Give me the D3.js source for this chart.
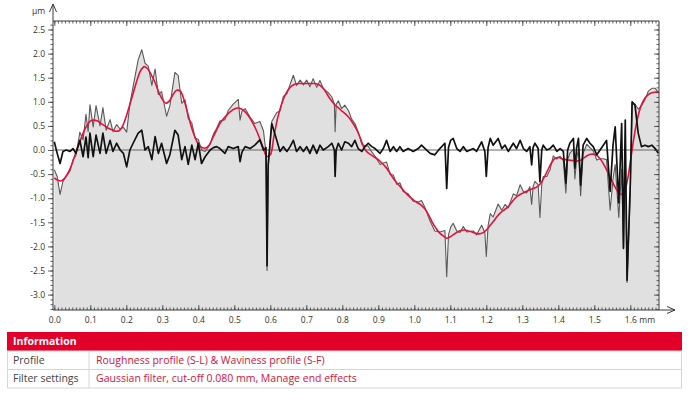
<!DOCTYPE html>
<html><head><meta charset="utf-8">
<script src="https://cdn.jsdelivr.net/npm/d3@7"></script>
<style>
body{margin:0;background:#fff;}
svg{display:block;font-family:"Open Sans",sans-serif;}
</style></head><body>
<svg id="c" width="689" height="396"></svg>
<script>
// ---------- DATA ----------
const posMM = [
0.000,0.008,0.016,0.024,0.033,0.044,0.052,0.060,0.071,0.080,
0.088,0.094,0.099,0.108,0.116,0.127,0.135,0.144,0.155,0.163,
0.173,0.183,0.192,0.201,0.210,0.219,0.233,0.243,0.252,0.261,
0.271,0.280,0.289,0.298,0.312,0.321,0.335,0.344,0.354,0.363,
0.372,0.382,0.391,0.400,0.409,0.419,0.433,0.442,0.451,0.460,
0.474,0.483,0.497,0.511,0.516,0.521,0.530,0.544,0.557,0.571,
0.581,0.588,0.591,0.594,0.604,0.618,0.627,0.636,0.646,0.655,
0.664,0.673,0.683,0.692,0.701,0.710,0.719,0.729,0.738,0.747,
0.761,0.771,0.778,0.780,0.783,0.789,0.798,0.807,0.817,0.826,
0.835,0.844,0.854,0.863,0.872,0.882,0.891,0.905,0.914,0.923,
0.933,0.942,0.951,0.960,0.969,0.983,0.997,1.011,1.020,1.030,
1.044,1.057,1.071,1.085,1.090,1.095,1.101,1.108,1.118,1.127,
1.136,1.146,1.155,1.164,1.173,1.187,1.196,1.200,1.205,1.211,
1.219,1.233,1.243,1.252,1.261,1.275,1.284,1.294,1.303,1.312,
1.321,1.326,1.330,1.335,1.344,1.349,1.354,1.358,1.368,1.377,
1.386,1.396,1.405,1.414,1.421,1.426,1.432,1.442,1.446,1.451,
1.456,1.462,1.469,1.479,1.488,1.497,1.507,1.516,1.525,1.534,
1.544,1.552,1.558,1.568,1.576,1.581,1.586,1.591,1.600,1.605,
1.613,1.622,1.631,1.641,1.650,1.660,1.669,1.678];

const roughness = [
0.17,-0.07,-0.28,-0.03,0.00,-0.03,0.03,-0.07,0.20,-0.14,
0.27,-0.16,0.35,-0.14,0.31,-0.07,0.35,-0.07,0.20,-0.03,
0.14,0.00,-0.07,-0.35,0.00,0.14,0.35,0.41,0.00,0.07,
-0.20,0.28,-0.07,0.14,-0.28,-0.10,0.41,0.31,-0.20,0.07,
-0.30,0.10,-0.20,0.14,-0.28,-0.14,0.00,0.05,0.07,0.03,
-0.07,0.07,0.03,0.07,-0.24,-0.05,0.07,0.03,0.10,0.21,
0.00,0.05,-2.40,-0.30,0.55,0.20,-0.03,0.07,-0.03,0.07,
0.20,-0.03,0.07,-0.03,0.07,-0.07,0.10,-0.07,0.10,0.00,
0.07,0.14,0.00,-0.55,0.00,0.14,0.00,0.17,0.14,0.07,
0.20,0.03,-0.03,0.07,0.14,0.07,0.03,-0.07,0.03,0.20,
-0.03,0.07,-0.03,0.07,-0.03,0.03,-0.03,0.03,0.10,0.03,
-0.07,-0.10,0.03,0.14,-0.80,0.05,0.20,0.24,0.03,-0.03,
0.07,-0.03,0.00,0.03,-0.03,0.17,-0.03,-0.55,0.05,0.24,
0.10,0.24,0.03,0.10,-0.03,0.14,0.03,0.20,0.03,-0.03,
0.07,-0.31,0.05,0.14,0.03,-0.66,0.00,0.10,0.00,0.03,
0.10,-0.03,0.03,-0.03,-0.69,0.00,0.14,0.24,-0.38,0.05,
0.24,-0.73,0.10,0.24,0.14,0.07,-0.10,0.00,0.10,0.20,
-0.86,0.10,0.48,-1.10,0.55,-2.04,0.62,-2.70,-0.69,1.00,
0.93,0.35,0.07,0.10,0.07,0.10,0.03,-0.07];

const primary = [
-0.41,-0.55,-0.92,-0.65,-0.55,-0.43,-0.20,-0.12,0.37,0.21,
0.74,0.38,0.94,0.48,0.92,0.50,0.88,0.41,0.63,0.38,
0.53,0.43,0.47,0.37,0.95,1.32,1.87,2.08,1.80,1.74,
1.34,1.68,1.15,1.21,0.70,0.92,1.61,1.55,0.97,1.04,
0.65,0.56,0.25,0.22,0.00,-0.03,0.12,0.33,0.45,0.60,
0.63,0.82,0.95,1.05,0.62,0.80,0.86,0.68,0.55,0.59,
0.40,-0.05,-2.50,-0.42,0.59,0.78,0.81,1.11,1.17,1.36,
1.55,1.34,1.45,1.35,1.45,1.31,1.48,1.30,1.44,1.28,
1.19,1.10,0.95,0.38,0.95,1.02,0.86,0.93,0.82,0.64,
0.55,0.38,0.12,0.09,0.08,-0.04,-0.13,-0.30,-0.27,-0.25,
-0.51,-0.52,-0.71,-0.68,-0.86,-0.91,-1.06,-1.08,-1.05,-1.20,
-1.48,-1.68,-1.70,-1.67,-2.63,-1.76,-1.60,-1.52,-1.68,-1.71,
-1.59,-1.70,-1.69,-1.68,-1.76,-1.56,-1.71,-2.21,-1.57,-1.32,
-1.39,-1.12,-1.25,-1.13,-1.20,-0.91,-0.95,-0.72,-0.86,-0.89,
-0.76,-1.13,-0.76,-0.65,-0.72,-1.40,-0.72,-0.55,-0.55,-0.41,
-0.12,-0.19,-0.13,-0.22,-0.89,-0.20,-0.07,0.02,-0.60,-0.18,
0.01,-0.95,-0.07,0.12,0.05,-0.02,-0.21,-0.18,-0.18,-0.20,
-1.25,-0.60,-0.30,-1.40,-0.40,-2.05,-0.25,-2.75,-0.90,0.97,
0.95,0.85,0.92,1.05,1.22,1.28,1.28,1.20];

// waviness sampled every 0.01 mm from 0.00 to 1.68
const wavinessStep = 0.01;
const waviness = [
-0.58,-0.63,-0.64,-0.57,-0.45,-0.27,-0.05,0.15,0.35,0.50,
0.60,0.62,0.60,0.55,0.50,0.45,0.42,0.39,0.40,0.50,
0.70,0.95,1.20,1.45,1.65,1.73,1.68,1.55,1.40,1.20,
1.05,0.97,1.02,1.15,1.24,1.22,1.05,0.78,0.50,0.28,
0.12,0.05,0.04,0.10,0.25,0.40,0.55,0.65,0.73,0.80,
0.85,0.87,0.85,0.79,0.70,0.58,0.43,0.25,0.05,-0.13,
-0.10,0.28,0.65,0.92,1.12,1.25,1.33,1.37,1.38,1.38,
1.38,1.38,1.38,1.37,1.33,1.25,1.13,1.02,0.93,0.87,
0.80,0.74,0.66,0.55,0.42,0.25,0.05,-0.05,-0.10,-0.15,
-0.20,-0.27,-0.35,-0.45,-0.57,-0.67,-0.75,-0.84,-0.92,-0.99,
-1.05,-1.10,-1.15,-1.23,-1.35,-1.50,-1.62,-1.72,-1.78,-1.83,
-1.80,-1.75,-1.70,-1.67,-1.66,-1.68,-1.70,-1.73,-1.74,-1.72,
-1.66,-1.57,-1.48,-1.38,-1.30,-1.24,-1.18,-1.09,-1.00,-0.94,
-0.90,-0.86,-0.83,-0.80,-0.77,-0.70,-0.58,-0.43,-0.28,-0.18,
-0.15,-0.18,-0.20,-0.21,-0.22,-0.23,-0.22,-0.17,-0.12,-0.09,
-0.09,-0.13,-0.22,-0.35,-0.50,-0.66,-0.80,-0.90,-0.92,-0.70,
-0.25,0.25,0.65,0.92,1.07,1.15,1.19,1.20,1.20];

const xTicks = [0,0.1,0.2,0.3,0.4,0.5,0.6,0.7,0.8,0.9,1.0,1.1,1.2,1.3,1.4,1.5,1.6];
const xTickLabels = ["0.0","0.1","0.2","0.3","0.4","0.5","0.6","0.7","0.8","0.9","1.0","1.1","1.2","1.3","1.4","1.5","1.6"];
const yTicks = [2.5,2.0,1.5,1.0,0.5,0.0,-0.5,-1.0,-1.5,-2.0,-2.5,-3.0];
const yTickLabels = ["2.5","2.0","1.5","1.0","0.5","0.0","-0.5","-1.0","-1.5","-2.0","-2.5","-3.0"];
const xUnit = "mm", yUnit = "µm";
const tableTitle = "Information";
const tableKeys = ["Profile","Filter settings"];
const tableValues = ["Roughness profile (S-L) & Waviness profile (S-F)","Gaussian filter, cut-off 0.080 mm, Manage end effects"];

// ---------- LAYOUT ----------
const svg = d3.select("#c");
const P = {left:53, right:659, top:21, bottom:310};
const x = d3.scaleLinear().domain([0,1.6]).range([54.3,630.3]);
const y = d3.scaleLinear().domain([-3,2.5]).range([294.6,29.5]);
const xMax = x.invert(P.right), yMin = y.invert(P.bottom), yMax = y.invert(P.top);
const axisCol = "#3a3a3a", textCol = "#333", red = "#e2123c";
const tickFont = 8.5;

svg.append("defs").append("clipPath").attr("id","clip")
  .append("rect").attr("x",P.left).attr("y",P.top).attr("width",P.right-P.left).attr("height",P.bottom-P.top);

const prof = posMM.map((m,i)=>({m, p:primary[i], r:roughness[i]}));
const wav = waviness.map((v,i)=>({m:i*wavinessStep, v}));

const g = svg.append("g").attr("clip-path","url(#clip)");
g.append("path").datum(prof)
  .attr("d", d3.area().x(d=>x(d.m)).y0(P.bottom).y1(d=>y(d.p)))
  .attr("fill","#e0e0e0");
g.append("line").attr("x1",P.left).attr("x2",P.right).attr("y1",y(0)).attr("y2",y(0))
  .attr("stroke","#666").attr("stroke-width",1);
g.append("path").datum(prof)
  .attr("d", d3.line().x(d=>x(d.m)).y(d=>y(d.p)))
  .attr("fill","none").attr("stroke","#5a5a5a").attr("stroke-width",1.1).attr("stroke-linejoin","round");
g.append("path").datum(wav)
  .attr("d", d3.line().curve(d3.curveCatmullRom.alpha(0.5)).x(d=>x(d.m)).y(d=>y(d.v)))
  .attr("fill","none").attr("stroke",red).attr("stroke-width",1.6);
g.append("path").datum(prof)
  .attr("d", d3.line().x(d=>x(d.m)).y(d=>y(d.r)))
  .attr("fill","none").attr("stroke","#111").attr("stroke-width",1.7).attr("stroke-linejoin","round");

// ---------- AXES ----------
function styleAxis(sel){
  sel.select(".domain").remove();
  sel.selectAll(".tick line").attr("stroke",axisCol).attr("stroke-width",0.8);
  sel.selectAll(".tick text").attr("fill",textCol).attr("font-size",tickFont).attr("font-family","'Open Sans',sans-serif");
}
const minorX = d3.range(0, Math.floor(xMax*100)+1).map(i=>i/100);
const minorY = d3.range(Math.ceil(yMin*10), Math.floor(yMax*10)+1).map(i=>i/10);

svg.append("g").attr("transform",`translate(${P.left},0)`)
  .call(d3.axisLeft(y).tickValues(minorY).tickSize(2.5).tickFormat(""))
  .call(styleAxis);
svg.append("g").attr("transform",`translate(${P.left},0)`)
  .call(d3.axisLeft(y).tickValues(yTicks).tickSize(5).tickPadding(3).tickFormat((d,i)=>yTickLabels[i]))
  .call(styleAxis);
svg.append("g").attr("transform",`translate(${P.right},0)`)
  .call(d3.axisLeft(y).tickValues(minorY).tickSize(2.5).tickFormat(""))
  .call(styleAxis);
svg.append("g").attr("transform",`translate(${P.right},0)`)
  .call(d3.axisLeft(y).tickValues(yTicks).tickSize(5).tickFormat(""))
  .call(styleAxis);
svg.append("g").attr("transform",`translate(0,${P.bottom})`)
  .call(d3.axisBottom(x).tickValues(minorX).tickSize(-2.5).tickFormat(""))
  .call(styleAxis);
svg.append("g").attr("transform",`translate(0,${P.bottom})`)
  .call(d3.axisBottom(x).tickValues(xTicks).tickSize(-5).tickPadding(7).tickFormat((d,i)=>xTickLabels[i]))
  .call(styleAxis);
svg.append("g").attr("transform",`translate(0,${P.top})`)
  .call(d3.axisTop(x).tickValues(minorX).tickSize(-2.5).tickFormat(""))
  .call(styleAxis);
svg.append("g").attr("transform",`translate(0,${P.top})`)
  .call(d3.axisTop(x).tickValues(xTicks).tickSize(-5).tickFormat(""))
  .call(styleAxis);

const fr = svg.append("g").attr("stroke",axisCol).attr("fill","none").attr("stroke-width",1);
fr.append("line").attr("x1",P.left).attr("x2",P.left).attr("y1",P.bottom).attr("y2",4);
fr.append("line").attr("x1",P.left).attr("x2",675).attr("y1",P.bottom).attr("y2",P.bottom);
fr.append("line").attr("x1",P.left).attr("x2",P.right).attr("y1",P.top).attr("y2",P.top);
fr.append("line").attr("x1",P.right).attr("x2",P.right).attr("y1",P.top).attr("y2",P.bottom);
fr.append("path").attr("d",`M${P.left-3.5},12 L${P.left},4 L${P.left+3.5},12`);
fr.append("path").attr("d",`M667,${P.bottom-3.5} L675,${P.bottom} L667,${P.bottom+3.5}`);

svg.append("text").attr("x",45).attr("y",14).attr("text-anchor","end")
  .attr("font-size",tickFont).attr("fill",textCol).text(yUnit);
svg.append("text").attr("x",x(1.6)+9).attr("y",P.bottom+7).attr("dy","0.71em")
  .attr("font-size",tickFont).attr("fill",textCol).text(xUnit);

// ---------- TABLE ----------
const T = {x:7, w:675, top:332, hh:19, rh:18.5, col:89};
const tb = svg.append("g");
tb.append("rect").attr("x",T.x).attr("y",T.top).attr("width",T.w).attr("height",T.hh).attr("fill","#e2002b");
tb.append("text").attr("x",T.x+6).attr("y",T.top+T.hh/2).attr("dy","0.35em")
  .attr("font-size",10.5).attr("font-weight","bold").attr("fill","#fff").text(tableTitle);
tableKeys.forEach((k,i)=>{
  const y0 = T.top+T.hh+i*T.rh;
  tb.append("rect").attr("x",T.x+0.5).attr("y",y0).attr("width",T.w-1).attr("height",T.rh)
    .attr("fill","#fff").attr("stroke","#d6d6d6").attr("stroke-width",1);
  tb.append("line").attr("x1",T.col).attr("x2",T.col).attr("y1",y0).attr("y2",y0+T.rh).attr("stroke","#d6d6d6");
  tb.append("text").attr("x",T.x+6).attr("y",y0+T.rh/2).attr("dy","0.35em")
    .attr("font-size",10.5).attr("fill","#444").text(k);
  tb.append("text").attr("x",T.col+7).attr("y",y0+T.rh/2).attr("dy","0.35em")
    .attr("font-size",10.5).attr("fill","#d4143c").text(tableValues[i]);
});
</script>
</body></html>
